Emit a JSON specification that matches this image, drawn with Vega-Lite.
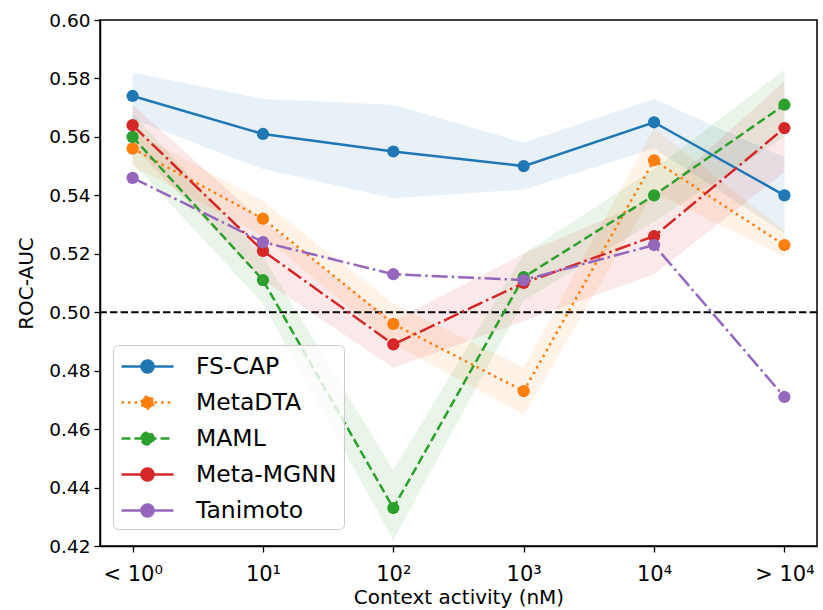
{
  "$schema": "https://vega.github.io/schema/vega-lite/v6.json",
  "width": 717,
  "height": 526,
  "autosize": "none",
  "padding": {"left": 100, "top": 20, "right": 6, "bottom": 64},
  "config": {
    "font": "DejaVu Sans",
    "view": {"stroke": "black", "strokeWidth": 1.5},
    "axis": {"grid": false, "domainColor": "black", "domainWidth": 1.5, "tickColor": "black", "tickWidth": 1.3, "tickSize": 6, "labelColor": "black", "titleColor": "black", "titleFontWeight": "normal"}
  },
  "datasets": {
    "main": [
      {"series": "FS-CAP", "x": 0, "y": 0.574, "lo": 0.566, "hi": 0.582},
      {"series": "FS-CAP", "x": 1, "y": 0.561, "lo": 0.549, "hi": 0.573},
      {"series": "FS-CAP", "x": 2, "y": 0.555, "lo": 0.539, "hi": 0.571},
      {"series": "FS-CAP", "x": 3, "y": 0.550, "lo": 0.542, "hi": 0.558},
      {"series": "FS-CAP", "x": 4, "y": 0.565, "lo": 0.556, "hi": 0.573},
      {"series": "FS-CAP", "x": 5, "y": 0.540, "lo": 0.527, "hi": 0.553},
      {"series": "MetaDTA", "x": 0, "y": 0.556, "lo": 0.550, "hi": 0.562},
      {"series": "MetaDTA", "x": 1, "y": 0.532, "lo": 0.526, "hi": 0.538},
      {"series": "MetaDTA", "x": 2, "y": 0.496, "lo": 0.489, "hi": 0.503},
      {"series": "MetaDTA", "x": 3, "y": 0.473, "lo": 0.465, "hi": 0.481},
      {"series": "MetaDTA", "x": 4, "y": 0.552, "lo": 0.541, "hi": 0.563},
      {"series": "MetaDTA", "x": 5, "y": 0.523, "lo": 0.519, "hi": 0.528},
      {"series": "MAML", "x": 0, "y": 0.560, "lo": 0.551, "hi": 0.568},
      {"series": "MAML", "x": 1, "y": 0.511, "lo": 0.503, "hi": 0.519},
      {"series": "MAML", "x": 2, "y": 0.433, "lo": 0.422, "hi": 0.446},
      {"series": "MAML", "x": 3, "y": 0.512, "lo": 0.504, "hi": 0.520},
      {"series": "MAML", "x": 4, "y": 0.540, "lo": 0.531, "hi": 0.549},
      {"series": "MAML", "x": 5, "y": 0.571, "lo": 0.560, "hi": 0.583},
      {"series": "Meta-MGNN", "x": 0, "y": 0.564, "lo": 0.557, "hi": 0.571},
      {"series": "Meta-MGNN", "x": 1, "y": 0.521, "lo": 0.511, "hi": 0.531},
      {"series": "Meta-MGNN", "x": 2, "y": 0.489, "lo": 0.481, "hi": 0.497},
      {"series": "Meta-MGNN", "x": 3, "y": 0.510, "lo": 0.497, "hi": 0.520},
      {"series": "Meta-MGNN", "x": 4, "y": 0.526, "lo": 0.513, "hi": 0.539},
      {"series": "Meta-MGNN", "x": 5, "y": 0.563, "lo": 0.548, "hi": 0.579},
      {"series": "Tanimoto", "x": 0, "y": 0.546, "lo": 0.546, "hi": 0.546},
      {"series": "Tanimoto", "x": 1, "y": 0.524, "lo": 0.524, "hi": 0.524},
      {"series": "Tanimoto", "x": 2, "y": 0.513, "lo": 0.513, "hi": 0.513},
      {"series": "Tanimoto", "x": 3, "y": 0.511, "lo": 0.511, "hi": 0.511},
      {"series": "Tanimoto", "x": 4, "y": 0.523, "lo": 0.523, "hi": 0.523},
      {"series": "Tanimoto", "x": 5, "y": 0.471, "lo": 0.471, "hi": 0.471}
    ],
    "ref": [{"y": 0.5}]
  },
  "encoding": {
    "x": {"field": "x", "type": "quantitative", "title": "Context activity (nM)",
      "scale": {"domain": [-0.25, 5.25], "nice": false, "zero": false},
      "axis": {"values": [0, 1, 2, 3, 4, 5], "labelFontSize": 21, "titleFontSize": 20, "labelPadding": 11, "titlePadding": 3,
        "labelExpr": "['< 10⁰','10¹','10²','10³','10⁴','> 10⁴'][datum.value]"}},
    "y": {"field": "y", "type": "quantitative", "title": "ROC-AUC",
      "scale": {"domain": [0.42, 0.60], "nice": false, "zero": false},
      "axis": {"values": [0.42, 0.44, 0.46, 0.48, 0.5, 0.52, 0.54, 0.56, 0.58, 0.6], "format": ".2f", "labelFontSize": 18.5, "titleFontSize": 20, "titlePadding": 12, "labelPadding": 4}},
    "color": {"field": "series", "type": "nominal",
      "scale": {"domain": ["FS-CAP", "MetaDTA", "MAML", "Meta-MGNN", "Tanimoto"], "range": ["#1f77b4", "#ff7f0e", "#2ca02c", "#d62728", "#9467bd"]},
      "legend": {
        "title": null, "orient": "none", "legendX": 13, "legendY": 325,
        "labelFontSize": 23.5, "labelColor": "black",
        "symbolType": "M-1,0L3,0M0.54,0A0.46,0.46,0,1,1,1.46,0A0.46,0.46,0,1,1,0.54,0Z",
        "symbolSize": 676, "symbolStrokeWidth": 2.5,
        "labelOffset": 47, "rowPadding": 10,
        "padding": 7, "strokeColor": "#cccccc", "fillColor": "rgba(255,255,255,0.8)", "cornerRadius": 5,
        "encode": {"symbols": {"update": {
          "fill": {"scale": "color", "field": "value"},
          "stroke": {"scale": "color", "field": "value"},
          "opacity": {"value": 1},
          "strokeDash": {"signal": "datum.value === 'MetaDTA' ? [2.5,4.1] : datum.value === 'MAML' ? [9,4] : [1,0]"}
        }}}
      }}
  },
  "layer": [
    {
      "data": {"name": "main"},
      "transform": [{"filter": "datum.series !== 'Tanimoto'"}],
      "mark": {"type": "area", "opacity": 0.1},
      "encoding": {
        "y": {"field": "lo", "type": "quantitative"},
        "y2": {"field": "hi"}
      }
    },
    {
      "data": {"name": "ref"},
      "mark": {"type": "rule", "color": "black", "strokeWidth": 2, "strokeDash": [7.4, 3.2]},
      "encoding": {"x": null, "color": null, "y": {"field": "y", "type": "quantitative"}}
    },
    {
      "data": {"name": "main"},
      "transform": [{"filter": "datum.series === 'FS-CAP'"}],
      "mark": {"type": "line", "strokeWidth": 2.5, "point": {"filled": true, "size": 150, "opacity": 1}}
    },
    {
      "data": {"name": "main"},
      "transform": [{"filter": "datum.series === 'MetaDTA'"}],
      "mark": {"type": "line", "strokeWidth": 2.5, "strokeDash": [2.5, 4.1], "point": {"filled": true, "size": 150, "opacity": 1}}
    },
    {
      "data": {"name": "main"},
      "transform": [{"filter": "datum.series === 'MAML'"}],
      "mark": {"type": "line", "strokeWidth": 2.5, "strokeDash": [9, 4], "point": {"filled": true, "size": 150, "opacity": 1}}
    },
    {
      "data": {"name": "main"},
      "transform": [{"filter": "datum.series === 'Meta-MGNN' || datum.series === 'Tanimoto'"}],
      "mark": {"type": "line", "strokeWidth": 2.5, "strokeDash": [16, 4, 2.5, 4], "point": {"filled": true, "size": 150, "opacity": 1}}
    }
  ]
}
